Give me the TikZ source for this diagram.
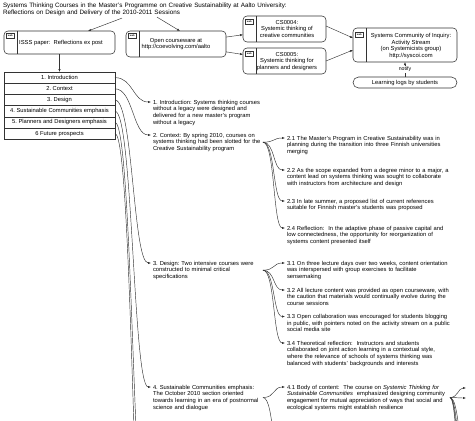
\documentclass[tikz,border=0pt]{standalone}
\usepackage{fontspec}
\setmainfont{Liberation Sans}
\usetikzlibrary{arrows.meta}
\definecolor{ln}{HTML}{333333}
\frenchspacing
\tikzset{
  every node/.style={inner sep=0pt, outer sep=0pt},
  bodyfont/.style={font=\fontsize{5.8}{6.7}\selectfont},
  rbox/.style={draw=ln, line width=0.55pt, rounded corners=4pt, anchor=north west},
  webicon/.style={draw=ln, line width=0.4pt, minimum width=8.5pt, minimum height=4.8pt, font=\fontsize{2.4}{2.6}\selectfont\bfseries, anchor=north west},
  sepline/.style={draw=ln, line width=0.45pt},
  rowbox/.style={draw=ln, line width=0.55pt, minimum width=111pt, minimum height=11.2pt, anchor=north west, bodyfont},
  mtext/.style={bodyfont, text width=110pt, align=left, anchor=base west},
  rtext/.style={bodyfont, text width=163pt, align=left, anchor=base west},
  conn/.style={draw=ln, line width=0.45pt, -{Latex[length=3pt,width=2.3pt]}},
}
\begin{document}
\begin{tikzpicture}[x=1pt,y=-1pt]
\useasboundingbox[fill=white] (0,0) rectangle (475,421);
\clip (0,0) rectangle (475,421);

% title
\node[font=\fontsize{6.3}{6.6}\selectfont, text width=300pt, align=left, anchor=base west] (title) at (3,7.4)
  {Systems Thinking Courses in the Master's Programme on Creative Sustainability at Aalto University:\\Reflections on Design and Delivery of the 2010-2011 Sessions};

% ISSS paper
\node[rbox, minimum width=111pt, minimum height=23pt] (isss) at (4,31) {};
\node[webicon] (isssw) at (6,33.5) {web};
\draw[sepline] ([xshift=13pt]isss.north west) -- ([xshift=13pt]isss.south west);
\node[bodyfont] (isssT) at (61,43) {ISSS paper:\ \ Reflections ex post};

% Open courseware
\node[rbox, minimum width=100pt, minimum height=26pt] (oc) at (126,31) {};
\node[webicon] (ocw) at (128,33.5) {web};
\draw[sepline] ([xshift=13pt]oc.north west) -- ([xshift=13pt]oc.south west);
\node[bodyfont, align=center] (ocT) at (176,44) {Open courseware at\\http://coevolving.com/aalto};

% CS0004
\node[rbox, minimum width=83pt, minimum height=26pt] (cs4) at (243,16) {};
\node[webicon] (cs4w) at (245,19) {web};
\draw[sepline] ([xshift=13pt]cs4.north west) -- ([xshift=13pt]cs4.south west);
\node[bodyfont, align=center] (cs4T) at (287,29) {CS0004:\\Systemic thinking of\\creative communities};

% CS0005
\node[rbox, minimum width=83pt, minimum height=26pt] (cs5) at (243,48) {};
\node[webicon] (cs5w) at (245,51) {web};
\draw[sepline] ([xshift=13pt]cs5.north west) -- ([xshift=13pt]cs5.south west);
\node[bodyfont, align=center] (cs5T) at (287,61.5) {CS0005:\\Systemic thinking for\\planners and designers};

% Syscoi
\node[rbox, minimum width=104pt, minimum height=34pt] (sys) at (353,28) {};
\node[webicon] (sysw) at (355,32) {web};
\draw[sepline] ([xshift=13pt]sys.north west) -- ([xshift=13pt]sys.south west);
\node[bodyfont, align=center] (sysT) at (411,46) {Systems Community of Inquiry:\\Activity Stream\\(on Systemicists group)\\http://syscoi.com};

% Learning logs
\node[rbox, rounded corners=5.5pt, minimum width=104pt, minimum height=11pt, bodyfont] (logs) at (353,77) {Learning logs by students};

% list
\node[rowbox] (row1) at (4,72) {1. Introduction};
\node[rowbox] (row2) at (4,83.2) {2. Context};
\node[rowbox] (row3) at (4,94.4) {3. Design};
\node[rowbox] (row4) at (4,105.6) {4. Sustainable Communities emphasis};
\node[rowbox] (row5) at (4,116.8) {5. Planners and Designers emphasis};
\node[rowbox] (row6) at (4,128) {6 Future prospects};

% middle column
\node[mtext] (n1) at (153,104) {1. Introduction: Systems thinking courses\\without a legacy were designed and\\delivered for a new master's program\\without a legacy};
\node[mtext] (n2) at (153,137) {2. Context: By spring 2010, courses on\\systems thinking had been slotted for the\\Creative Sustainability program};
\node[mtext] (n3) at (153,265) {3. Design: Two intensive courses were\\constructed to minimal critical\\specifications};
\node[mtext] (n4) at (153,389) {4. Sustainable Communities emphasis:\\The October 2010 section oriented\\towards learning in an era of postnormal\\science and dialogue};

% right column
\node[rtext] (t21) at (287,140) {2.1 The Master's Program in Creative Sustainability was in\\planning during the transition into three Finnish universities\\merging};
\node[rtext] (t22) at (287,172) {2.2 As the scope expanded from a degree minor to a major, a\\content lead on systems thinking was sought to collaborate\\with instructors from architecture and design};
\node[rtext] (t23) at (287,203) {2.3 In late summer, a proposed list of current references\\suitable for Finnish master's students was proposed};
\node[rtext] (t24) at (287,230) {2.4 Reflection:\ \ In the adaptive phase of passive capital and\\low connectedness, the opportunity for reorganization of\\systems content presented itself};
\node[rtext] (t31) at (287,265) {3.1 On three lecture days over two weeks, content orientation\\was interspersed with group exercises to facilitate\\sensemaking};
\node[rtext] (t32) at (287,292) {3.2 All lecture content was provided as open courseware, with\\the caution that materials would continually evolve during the\\course sessions};
\node[rtext] (t33) at (287,318.5) {3.3 Open collaboration was encouraged for students blogging\\in public, with pointers noted on the activity stream on a public\\social media site};
\node[rtext] (t34) at (287,345) {3.4 Theoretical reflection:\ \ Instructors and students\\collaborated on joint action learning in a contextual style,\\where the relevance of schools of systems thinking was\\balanced with students' backgrounds and interests};
\node[rtext] (t41) at (287,389) {4.1 Body of content:\ \ The course on \textit{Systemic Thinking for}\\\textit{Sustainable Communities}\ \ emphasized designing community\\engagement for mutual appreciation of ways that social and\\ecological systems might establish resilience};

% arrow-tip coordinates at first lines
\foreach \n in {n1,n2,n3,n4,t21,t22,t23,t24,t31,t32,t33,t34,t41}
  \coordinate (\n in) at ([xshift=-2pt,yshift=2pt]\n.base west);
\coordinate (c5) at (151,560);
\coordinate (c6) at (151,640);
\coordinate (c42) at (285,480);
\coordinate (k1) at (466,388);
\coordinate (k2) at (466,398);
\coordinate (k3) at (466,440);
\coordinate (k4) at (466,470);
\coordinate (k5) at (466,500);
\coordinate (k6) at (466,530);

% top connectors
\draw[conn] ([xshift=-31pt,yshift=-2.8pt]title.south) -- ([xshift=28.5pt]isss.north);
\draw[conn] ([xshift=4pt,yshift=-1.8pt]title.south) -- ([xshift=4pt]oc.north);
\draw[conn] (oc) -- (cs4);
\draw[conn] (oc) -- (cs5);
\draw[conn] ([yshift=3pt]cs4.east) -- ([yshift=7pt]sys.west);
\draw[conn] (cs5.east) -- ([yshift=-5pt]sys.west);
\draw[conn] (logs.north) -- node[fill=white, inner sep=0.8pt, font=\fontsize{5.2}{6}\selectfont] (notify) {notify} (sys.south);
\draw[conn] (isss.south) -- (row1.north);

% list to middle
\draw[conn] (row1.east) .. controls +(18,0) and +(-18,0) .. (n1in);
\draw[conn] (row2.east) .. controls +(18,0) and +(-18,0) .. (n2in);
\draw[conn] (row3.east) .. controls +(18,0) and +(-18,0) .. (n3in);
\draw[conn] (row4.east) .. controls +(18,0) and +(-18,0) .. (n4in);
\draw[conn] (row5.east) .. controls +(18,0) and +(-18,0) .. (c5);
\draw[conn] (row6.east) .. controls +(18,0) and +(-18,0) .. (c6);

% middle to right
\foreach \t in {t21,t22,t23,t24}
  \draw[conn] (n2.east) .. controls +(12,0) and +(-12,0) .. (\t in);
\foreach \t in {t31,t32,t33,t34}
  \draw[conn] (n3.east) .. controls +(12,0) and +(-12,0) .. (\t in);
\draw[conn] (n4.east) .. controls +(12,0) and +(-12,0) .. (t41in);
\draw[conn] (n4.east) .. controls +(12,0) and +(-12,0) .. (c42);
\foreach \k in {k1,k2,k3,k4,k5,k6}
  \draw[conn] (t41.east) .. controls +(8,0) and +(-8,0) .. (\k);
\end{tikzpicture}
\end{document}
